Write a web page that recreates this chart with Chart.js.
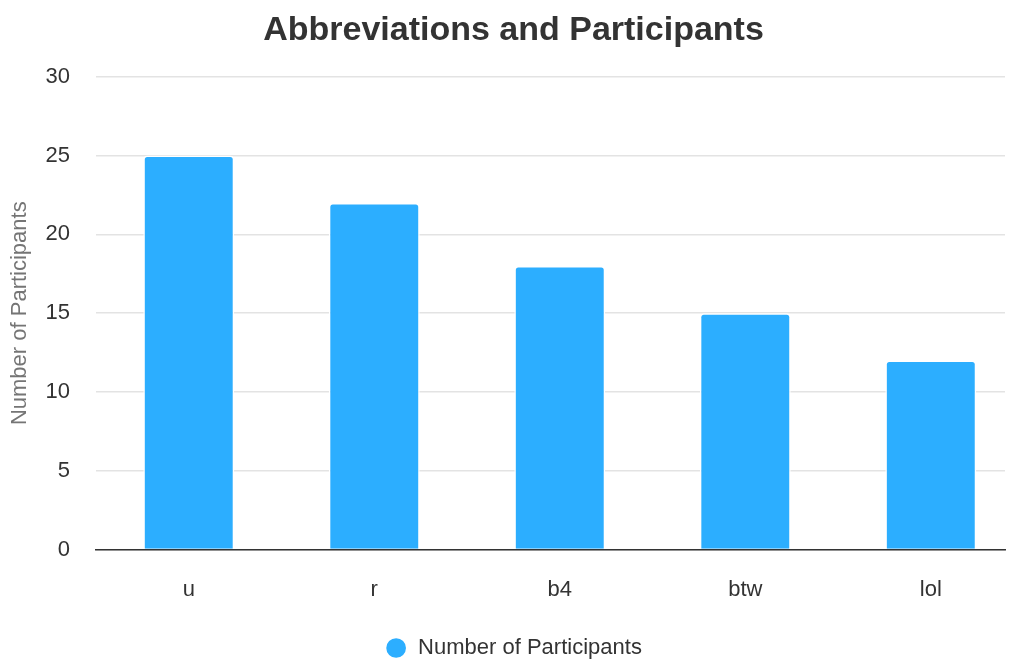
<!DOCTYPE html>
<html>
<head>
<meta charset="utf-8">
<script src="https://cdn.jsdelivr.net/npm/chart.js@4/dist/chart.umd.min.js"></script>
<style>
  html, body { margin: 0; padding: 0; background: #fff; }
  #wrap { width: 1011px; height: 660px; }
</style>
</head>
<body>
<div id="wrap"><canvas id="chart" width="1011" height="660"></canvas></div>
<script>
const categories = ["u", "r", "b4", "btw", "lol"];
const participants = [25, 22, 18, 15, 12];
const yTicks = [0, 5, 10, 15, 20, 25, 30];

const FONT = "'Liberation Sans', Arial, sans-serif";

// bars sit on a linear x axis so the category spacing can match the picture
const points = participants.map(function (v, i) { return { x: i, y: v }; });

const ctx = document.getElementById("chart").getContext("2d");

new Chart(ctx, {
  type: "bar",
  data: {
    datasets: [
      {
        label: "Number of Participants",
        data: points,
        backgroundColor: "#2caeff",
        borderColor: "#ffffff",
        borderWidth: 1.5,
        borderRadius: { topLeft: 4, topRight: 4 },
        borderSkipped: "bottom",
        categoryPercentage: 1,
        barPercentage: 0.49,
      },
    ],
  },
  options: {
    responsive: false,
    animation: false,
    layout: { padding: { left: 22, right: 6, top: 4, bottom: -9 } },
    scales: {
      x: {
        type: "linear",
        offset: false,
        min: -0.5,
        max: 4.4,
        afterBuildTicks: function (axis) {
          axis.ticks = categories.map(function (c, i) { return { value: i }; });
        },
        afterFit: function (axis) { axis.height += 14; },
        grid: { display: false, offset: false },
        border: { color: "#333", width: 1.5, z: 1 },
        ticks: {
          color: "#333",
          padding: 19,
          autoSkip: false,
          maxRotation: 0,
          font: { family: FONT, size: 22 },
          callback: function (value) { return categories[value]; },
        },
      },
      y: {
        min: 0,
        max: 30,
        afterBuildTicks: function (axis) {
          axis.ticks = yTicks.map(function (v) { return { value: v }; });
        },
        afterFit: function (axis) { axis.width = 74; },
        grid: { color: "#e3e3e3", lineWidth: 1.5, drawTicks: false },
        border: { display: false },
        ticks: {
          color: "#333",
          padding: 26,
          font: { family: FONT, size: 22 },
        },
        title: {
          display: true,
          text: "Number of Participants",
          color: "#757575",
          padding: { top: -15, bottom: 0 },
          font: { family: FONT, size: 22 },
        },
      },
    },
    plugins: {
      title: {
        display: true,
        text: "Abbreviations and Participants",
        color: "#333",
        padding: { top: 6, bottom: 26 },
        font: { family: FONT, size: 34, weight: "bold" },
      },
      legend: {
        position: "bottom",
        labels: {
          usePointStyle: true,
          pointStyle: "circle",
          boxWidth: 22,
          boxHeight: 15,
          padding: 1,
          color: "#333",
          font: { family: FONT, size: 22 },
        },
      },
      tooltip: { enabled: false },
    },
  },
});
</script>
</body>
</html>
